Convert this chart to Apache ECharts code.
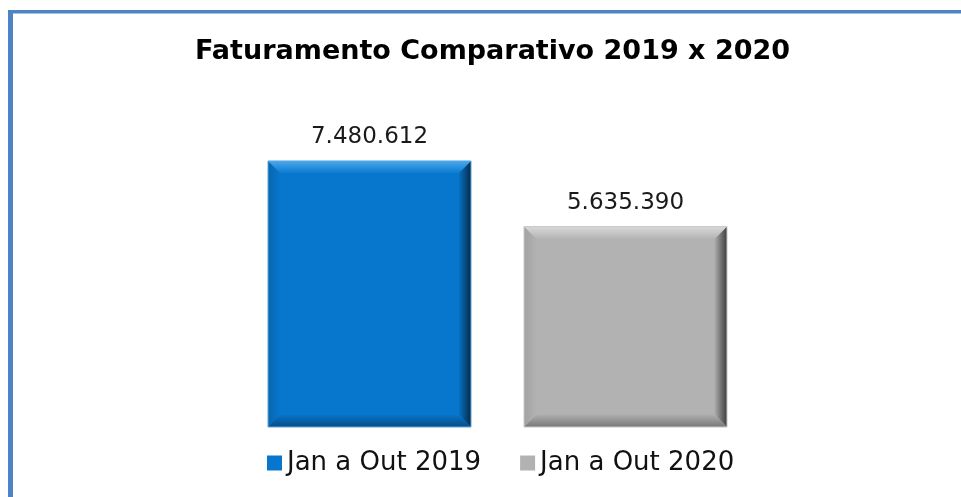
<!DOCTYPE html>
<html>
<head>
<meta charset="utf-8">
<script src="https://cdn.jsdelivr.net/npm/echarts@6/dist/echarts.min.js"></script>
<style>
  html, body { margin: 0; padding: 0; background: #fff; }
  #chart { width: 961px; height: 497px; }
</style>
</head>
<body>
<div id="chart"></div>
<script>
// dados do grafico
var categorias = ['Jan a Out 2019', 'Jan a Out 2020'];
var valores = [7480612, 5635390];
var tituloTexto = 'Faturamento Comparativo 2019 x 2020';

// cores: face, topo, esquerda, direita, base
var paletas = [
  { face: '#0777cd', top: '#4aa8ee', left: '#0866ae', right: '#042a4a', bottom: '#084c86', border: '#5aa6dc' },
  { face: '#b2b2b2', top: '#d8d8d8', left: '#a2a2a2', right: '#3e3e3e', bottom: '#777777', border: '#c8c8c8' }
];

function formatar(v) {
  return String(v).replace(/\B(?=(\d{3})+(?!\d))/g, '.');
}

var chart = echarts.init(document.getElementById('chart'));

var BAR_W = 203;
var BEVEL = 13;

var series = categorias.map(function (nome, i) {
  var d = valores.map(function (v, j) { return j === i ? v : '-'; });
  return {
    name: nome,
    type: 'bar',
    data: d,
    barWidth: BAR_W,
    barGap: '-100%',
    itemStyle: { color: paletas[i].face },
    label: {
      show: true,
      position: 'top',
      distance: 12,
      color: '#1a1a1a',
      fontSize: 23,
      fontFamily: 'DejaVu Sans',
      formatter: function (p) { return formatar(p.value); }
    }
  };
});

// chanfro desenhado por cima das barras
series.push({
  type: 'custom',
  silent: true,
  z: 5,
  data: valores.map(function (v, i) { return [i, v]; }),
  renderItem: function (params, api) {
    var idx = api.value(0);
    var p0 = api.coord([idx, api.value(1)]);
    var p1 = api.coord([idx, 0]);
    var x0 = p0[0] - BAR_W / 2, x1 = p0[0] + BAR_W / 2;
    var y0 = p0[1], y1 = p1[1];
    var b = BEVEL;
    var c = paletas[idx];
    function poly(pts, fill) {
      return { type: 'polygon', shape: { points: pts }, style: { fill: fill } };
    }
    return {
      type: 'group',
      children: [
        poly([[x0, y0], [x0 + b, y0 + b], [x0 + b, y1 - b], [x0, y1]],
          new echarts.graphic.LinearGradient(0, 0, 1, 0, [{ offset: 0, color: c.left }, { offset: 1, color: c.face }])),
        poly([[x1, y0], [x1, y1], [x1 - b, y1 - b], [x1 - b, y0 + b]],
          new echarts.graphic.LinearGradient(0, 0, 1, 0, [{ offset: 0, color: c.face }, { offset: 1, color: c.right }])),
        poly([[x0, y1], [x1, y1], [x1 - b, y1 - b], [x0 + b, y1 - b]],
          new echarts.graphic.LinearGradient(0, 0, 0, 1, [{ offset: 0, color: c.face }, { offset: 1, color: c.bottom }])),
        poly([[x0, y0], [x1, y0], [x1 - b, y0 + b], [x0 + b, y0 + b]],
          new echarts.graphic.LinearGradient(0, 0, 0, 1, [{ offset: 0, color: c.top }, { offset: 1, color: c.face }])),
        {
          type: 'rect',
          shape: { x: x0, y: y0, width: BAR_W, height: y1 - y0 },
          style: { fill: null, stroke: c.border, lineWidth: 1 }
        }
      ]
    };
  }
});

var option = {
  backgroundColor: '#ffffff',
  animation: false,
  title: {
    text: tituloTexto,
    left: 190,
    top: 33,
    textStyle: {
      fontFamily: 'DejaVu Sans',
      fontWeight: 'bold',
      fontSize: 27,
      color: '#000'
    }
  },
  legend: {
    data: categorias,
    left: 262,
    top: 445,
    icon: 'rect',
    itemWidth: 15,
    itemHeight: 15,
    itemGap: 39,
    textStyle: { fontFamily: 'DejaVu Sans', fontSize: 26, color: '#111' }
  },
  grid: { left: 241.5, right: 207.5, top: 142.5, bottom: 70 },
  xAxis: {
    type: 'category',
    data: categorias,
    axisLine: { show: false },
    axisTick: { show: false },
    axisLabel: { show: false }
  },
  yAxis: {
    type: 'value',
    min: 0,
    max: 8000000,
    show: false,
    splitLine: { show: false }
  },
  graphic: [
    { type: 'rect', shape: { x: 8, y: 10, width: 953, height: 3.5 }, style: { fill: '#4f84c4' } },
    { type: 'rect', shape: { x: 8, y: 10, width: 5, height: 487 }, style: { fill: '#4f84c4' } }
  ],
  series: series
};

chart.setOption(option);
</script>
</body>
</html>
